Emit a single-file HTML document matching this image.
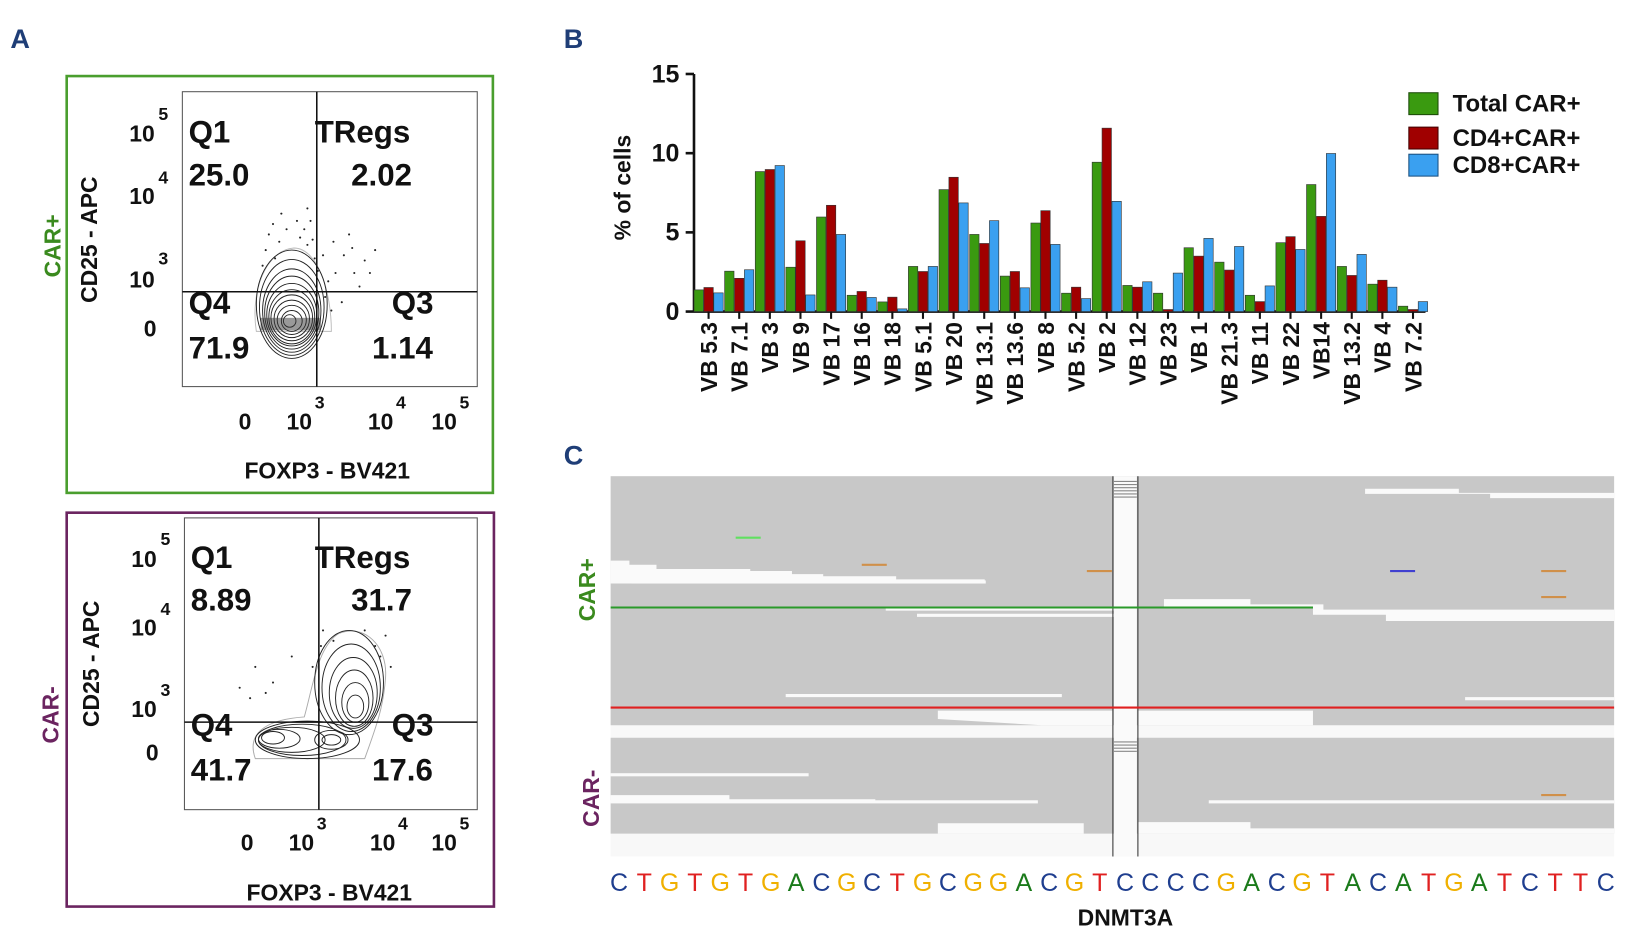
<!DOCTYPE html>
<html><head><meta charset="utf-8"><style>
html,body{margin:0;padding:0;background:#fff;width:1636px;height:942px;overflow:hidden}
svg text{font-family:"Liberation Sans",Arial,sans-serif;font-weight:bold}
</style></head><body>
<svg id="fig" width="1636" height="942" viewBox="0 0 1570 904" preserveAspectRatio="none" xmlns="http://www.w3.org/2000/svg">
<rect width="1570" height="904" fill="#fff"/>
<text x="10" y="46" font-size="26" fill="#1f3e77">A</text>
<text x="541" y="46" font-size="26" fill="#1f3e77">B</text>
<text x="541" y="446" font-size="26" fill="#1f3e77">C</text>

<!-- Panel A top -->
<g>
<rect x="64" y="73" width="409" height="400" fill="none" stroke="#4a9e2e" stroke-width="2.5"/>
<rect x="175" y="88" width="283" height="283" fill="none" stroke="#555" stroke-width="1"/>
<g fill="none" stroke="#222" stroke-width="0.9">
<path d="M246 318 C240 280 255 240 282 238 C305 238 318 280 318 318 Z" stroke="#bbb"/>
<ellipse cx="280" cy="292" rx="34" ry="52"/><ellipse cx="280" cy="295" rx="31" ry="46"/><ellipse cx="280" cy="298" rx="28" ry="40"/><ellipse cx="280" cy="300" rx="26" ry="35"/><ellipse cx="280" cy="302" rx="24" ry="30"/><ellipse cx="280" cy="304" rx="22" ry="26"/><ellipse cx="280" cy="305" rx="20" ry="22"/><ellipse cx="280" cy="306" rx="17" ry="18"/><ellipse cx="280" cy="307" rx="14" ry="14"/><ellipse cx="280" cy="308" rx="10" ry="10"/><ellipse cx="278" cy="308" rx="6" ry="6"/>
<rect x="250" y="305" width="58" height="12" fill="#333" stroke="none" opacity="0.5"/>
</g>
<g fill="#222">
<circle cx="262" cy="215" r="1"/><circle cx="270" cy="205" r="1"/><circle cx="285" cy="212" r="1"/><circle cx="295" cy="200" r="1"/><circle cx="300" cy="230" r="1"/><circle cx="255" cy="240" r="1"/><circle cx="310" cy="245" r="1"/><circle cx="320" cy="232" r="1"/><circle cx="335" cy="225" r="1"/><circle cx="350" cy="250" r="1"/><circle cx="340" cy="262" r="1"/><circle cx="315" cy="270" r="1"/><circle cx="328" cy="290" r="1"/><circle cx="292" cy="220" r="1"/><circle cx="268" cy="232" r="1"/><circle cx="305" cy="260" r="1"/><circle cx="360" cy="240" r="1"/><circle cx="345" cy="275" r="1"/>
<circle cx="258" cy="225" r="1"/><circle cx="275" cy="220" r="1"/><circle cx="288" cy="228" r="1"/><circle cx="298" cy="212" r="1"/><circle cx="252" cy="255" r="1"/><circle cx="302" cy="248" r="1"/><circle cx="312" cy="285" r="1"/><circle cx="322" cy="262" r="1"/><circle cx="330" cy="245" r="1"/><circle cx="338" cy="238" r="1"/><circle cx="355" cy="262" r="1"/><circle cx="318" cy="298" r="1"/><circle cx="295" cy="235" r="1"/><circle cx="264" cy="248" r="1"/>
</g>
<line x1="175" y1="280" x2="458" y2="280" stroke="#111" stroke-width="1.5"/>
<line x1="304" y1="88" x2="304" y2="371" stroke="#111" stroke-width="1.5"/>
<g font-size="30" fill="#111">
<text x="181" y="137">Q1</text><text x="181" y="178">25.0</text><text x="302" y="137">TRegs</text><text x="337" y="178">2.02</text>
<text x="181" y="301">Q4</text><text x="181" y="344">71.9</text><text x="376" y="301">Q3</text><text x="357" y="344">1.14</text>
</g>
<g font-size="22" fill="#111">
<text x="124" y="136">10</text><text x="152" y="115" font-size="17">5</text>
<text x="124" y="196">10</text><text x="152" y="176" font-size="17">4</text>
<text x="124" y="276">10</text><text x="152" y="254" font-size="17">3</text>
<text x="138" y="323">0</text>
<text x="229" y="412">0</text>
<text x="275" y="412">10</text><text x="302" y="392" font-size="17">3</text>
<text x="353" y="412">10</text><text x="380" y="392" font-size="17">4</text>
<text x="414" y="412">10</text><text x="441" y="392" font-size="17">5</text>
</g>
<text x="314" y="459" font-size="22" fill="#111" text-anchor="middle">FOXP3 - BV421</text>
<text transform="translate(93,230) rotate(-90)" font-size="22" fill="#111" text-anchor="middle">CD25 - APC</text>
<text transform="translate(58,236) rotate(-90)" font-size="22" fill="#3a8a1e" text-anchor="middle">CAR+</text>
</g>

<!-- Panel A bottom -->
<g>
<rect x="64" y="492" width="410" height="378" fill="none" stroke="#6b2460" stroke-width="2.5"/>
<rect x="177" y="497" width="281" height="280" fill="none" stroke="#555" stroke-width="1"/>
<g fill="none" stroke="#222" stroke-width="0.9">
<path d="M245 728 C235 700 262 690 292 688 C300 660 305 620 325 608 C350 598 372 620 370 650 C368 680 360 700 350 728 Z" stroke="#aaa"/>
<ellipse cx="335" cy="655" rx="33" ry="50"/><ellipse cx="337" cy="660" rx="28" ry="42"/><ellipse cx="339" cy="665" rx="23" ry="34"/><ellipse cx="340" cy="670" rx="18" ry="27"/><ellipse cx="341" cy="674" rx="13" ry="19"/><ellipse cx="341" cy="678" rx="8" ry="11"/>
<ellipse cx="295" cy="710" rx="50" ry="18"/><ellipse cx="290" cy="710" rx="42" ry="15"/><ellipse cx="280" cy="710" rx="32" ry="12"/><ellipse cx="268" cy="709" rx="20" ry="9"/><ellipse cx="262" cy="708" rx="11" ry="6"/><ellipse cx="318" cy="710" rx="16" ry="9"/><ellipse cx="318" cy="710" rx="9" ry="5"/>
</g>
<g fill="#222">
<circle cx="230" cy="660" r="1"/><circle cx="245" cy="640" r="1"/><circle cx="262" cy="655" r="1"/><circle cx="280" cy="630" r="1"/><circle cx="310" cy="605" r="1"/><circle cx="320" cy="615" r="1"/><circle cx="350" cy="605" r="1"/><circle cx="370" cy="610" r="1"/><circle cx="360" cy="620" r="1"/><circle cx="240" cy="670" r="1"/><circle cx="300" cy="640" r="1"/><circle cx="308" cy="620" r="1"/><circle cx="365" cy="630" r="1"/><circle cx="375" cy="640" r="1"/><circle cx="255" cy="665" r="1"/>
</g>
<line x1="177" y1="693" x2="458" y2="693" stroke="#111" stroke-width="1.5"/>
<line x1="306" y1="497" x2="306" y2="777" stroke="#111" stroke-width="1.5"/>
<g font-size="30" fill="#111">
<text x="183" y="545">Q1</text><text x="183" y="586">8.89</text><text x="302" y="545">TRegs</text><text x="337" y="586">31.7</text>
<text x="183" y="706">Q4</text><text x="183" y="749">41.7</text><text x="376" y="706">Q3</text><text x="357" y="749">17.6</text>
</g>
<g font-size="22" fill="#111">
<text x="126" y="544">10</text><text x="154" y="523" font-size="17">5</text>
<text x="126" y="610">10</text><text x="154" y="590" font-size="17">4</text>
<text x="126" y="688">10</text><text x="154" y="668" font-size="17">3</text>
<text x="140" y="730">0</text>
<text x="231" y="816">0</text>
<text x="277" y="816">10</text><text x="304" y="796" font-size="17">3</text>
<text x="355" y="816">10</text><text x="382" y="796" font-size="17">4</text>
<text x="414" y="816">10</text><text x="441" y="796" font-size="17">5</text>
</g>
<text x="316" y="864" font-size="22" fill="#111" text-anchor="middle">FOXP3 - BV421</text>
<text transform="translate(95,637) rotate(-90)" font-size="22" fill="#111" text-anchor="middle">CD25 - APC</text>
<text transform="translate(56,686) rotate(-90)" font-size="22" fill="#6b2460" text-anchor="middle">CAR-</text>
</g>

<!-- Panel B -->
<g id="barchart"></g>
<g>
<rect x="1352" y="89" width="28" height="21" fill="#3a9a10" stroke="#1b4a08"/><text x="1394" y="107" font-size="23" fill="#111">Total CAR+</text>
<rect x="1352" y="122" width="28" height="21" fill="#a00000" stroke="#400"/><text x="1394" y="140" font-size="23" fill="#111">CD4+CAR+</text>
<rect x="1352" y="148" width="28" height="21" fill="#3aa0f0" stroke="#1a5080"/><text x="1394" y="166" font-size="23" fill="#111">CD8+CAR+</text>
</g>

<!-- Panel C -->
<g>
<rect x="586" y="457" width="963" height="365" fill="#f8f8f8"/>
<rect x="586" y="457" width="963" height="239" fill="#c8c8c8"/>
<rect x="586" y="708" width="963" height="92" fill="#c8c8c8"/>
<g fill="#fafafa">
<polygon points="586,538 604,538 604,542 630,542 630,546 720,546 720,548 760,548 760,551 790,551 790,553 860,553 860,556 945,556 945,560 586,560 586,552"/>
<rect x="606" y="557" width="340" height="3"/>
<rect x="850" y="585" width="220" height="3" transform="translate(0,-2)"/>
<rect x="880" y="589" width="190" height="3"/>
<polygon points="1117,575 1200,575 1200,580 1270,580 1270,585 1549,585 1549,596 1330,596 1330,590 1260,590 1260,583 1117,583"/>
<polygon points="1310,469 1400,469 1400,473 1550,473 1550,478 1430,478 1430,474 1310,474"/>
<rect x="754" y="666" width="265" height="3"/>
<rect x="1406" y="669" width="143" height="3"/>
<polygon points="900,682 1068,682 1068,696 1000,696 900,690"/>
<polygon points="1092,682 1260,682 1260,696 1092,696"/>
<rect x="586" y="742" width="190" height="3"/>
<polygon points="586,763 700,763 700,767 840,767 840,770 586,770"/>
<rect x="586" y="768" width="410" height="3"/>
<rect x="1160" y="768" width="389" height="3"/>
<polygon points="900,790 1040,790 1040,800 900,800"/>
<polygon points="1092,789 1200,789 1200,795 1549,795 1549,800 1092,800"/>
</g>
<rect x="1069" y="457" width="22" height="365" fill="#fafafa"/>
<g stroke="#888" stroke-width="1">
<line x1="1069" y1="462" x2="1091" y2="462"/><line x1="1069" y1="465" x2="1091" y2="465"/><line x1="1069" y1="468" x2="1091" y2="468"/><line x1="1069" y1="471" x2="1091" y2="471"/><line x1="1069" y1="474" x2="1091" y2="474"/><line x1="1069" y1="477" x2="1091" y2="477"/>
<line x1="1069" y1="712" x2="1091" y2="712"/><line x1="1069" y1="715" x2="1091" y2="715"/><line x1="1069" y1="718" x2="1091" y2="718"/><line x1="1069" y1="721" x2="1091" y2="721"/>
</g>
<line x1="1068" y1="457" x2="1068" y2="822" stroke="#333" stroke-width="1"/>
<line x1="1092" y1="457" x2="1092" y2="822" stroke="#333" stroke-width="1"/>
<line x1="586" y1="583" x2="1260" y2="583" stroke="#2a9a2a" stroke-width="2"/>
<line x1="586" y1="679" x2="1549" y2="679" stroke="#e02020" stroke-width="2"/>
<line x1="706" y1="516" x2="730" y2="516" stroke="#60e060" stroke-width="2"/>
<line x1="827" y1="542" x2="851" y2="542" stroke="#d0904a" stroke-width="2"/>
<line x1="1043" y1="548" x2="1067" y2="548" stroke="#d0904a" stroke-width="2"/>
<line x1="1334" y1="548" x2="1358" y2="548" stroke="#4040d0" stroke-width="2"/>
<line x1="1479" y1="548" x2="1503" y2="548" stroke="#d0904a" stroke-width="2"/>
<line x1="1479" y1="573" x2="1503" y2="573" stroke="#d0904a" stroke-width="2"/>
<line x1="1479" y1="763" x2="1503" y2="763" stroke="#d0904a" stroke-width="2"/>
<text transform="translate(571,566) rotate(-90)" font-size="22" fill="#3a8a1e" text-anchor="middle">CAR+</text>
<text transform="translate(575,766) rotate(-90)" font-size="22" fill="#6b2460" text-anchor="middle">CAR-</text>
<g id="seq"></g>
<text x="1080" y="888" font-size="22" fill="#111" text-anchor="middle">DNMT3A</text>
</g>
</svg>
<script>
const NS="http://www.w3.org/2000/svg";
const categories=["VB 5.3","VB 7.1","VB 3","VB 9","VB 17","VB 16","VB 18","VB 5.1","VB 20","VB 13.1","VB 13.6","VB 8","VB 5.2","VB 2","VB 12","VB 23","VB 1","VB 21.3","VB 11","VB 22","VB14","VB 13.2","VB 4","VB 7.2"];
const totalCar=[1.37,2.55,8.84,2.8,5.97,1.03,0.61,2.85,7.7,4.87,2.24,5.59,1.16,9.43,1.65,1.16,4.03,3.12,1.03,4.35,8.02,2.85,1.73,0.34];
const cd4Car=[1.52,2.1,8.97,4.47,6.71,1.27,0.91,2.53,8.48,4.3,2.53,6.37,1.54,11.58,1.54,0.13,3.5,2.62,0.63,4.73,6.01,2.28,1.98,0.13];
const cd8Car=[1.18,2.64,9.22,1.05,4.87,0.89,0.17,2.85,6.86,5.74,1.5,4.24,0.82,6.96,1.88,2.43,4.62,4.11,1.62,3.92,9.98,3.61,1.54,0.63];
const yTicks=[0,5,10,15];
const seqLetters="CTGTGTGACGCTGCGGACGTCCCCGACGTACATGATCTTC";

const g=document.getElementById('barchart');
const y0=299,y15=71,xFirst=680,xLast=1356;
const yS=v=>y0-(y0-y15)*v/15;
const xS=i=>xFirst+(xLast-xFirst)*i/(categories.length-1);
function mk(tag,attrs,parent){const e=document.createElementNS(NS,tag);for(const k in attrs)e.setAttribute(k,attrs[k]);parent.appendChild(e);return e;}
const ax=mk('line',{x1:666,y1:y15,x2:666,y2:y0,stroke:'#111','stroke-width':2.5},g);


const xa=mk('line',{x1:666,y1:y0,x2:1368,y2:y0,stroke:'#111','stroke-width':2.5},g);


yTicks.forEach(t=>{
  mk('line',{x1:658,y1:yS(t),x2:666,y2:yS(t),stroke:'#111','stroke-width':2.5},g);
  const tx=mk('text',{x:652,y:yS(t)+8,'font-size':24,'text-anchor':'end',fill:'#111'},g);
  tx.textContent=t;
  
  
});
const yt=mk('text',{transform:'translate(605,180) rotate(-90)','font-size':22,'text-anchor':'middle',fill:'#111'},g);
yt.textContent='% of cells';


const series=[[totalCar,'#3a9a10',-9.5,'total'],[cd4Car,'#a00000',0,'cd4'],[cd8Car,'#3aa0f0',9.5,'cd8']];
categories.forEach((c,i)=>{
  const cx=xS(i);
  series.forEach(([arr,col,off,nm])=>{
    const r=mk('rect',{x:cx+off-4.5,y:yS(arr[i]),width:9,height:y0-yS(arr[i]),fill:col,stroke:'#333','stroke-width':0.6},g);
    
    
  });
  mk('line',{x1:cx,y1:y0,x2:cx,y2:y0+7,stroke:'#111','stroke-width':2},g);
  const lb=mk('text',{transform:`translate(${cx+8},${y0+10}) rotate(-90)`,'font-size':22,'text-anchor':'end',fill:'#111'},g);
  lb.textContent=c;
  
  
});
const colors={A:'#1a7a1a',C:'#1f3e8f',G:'#f0b000',T:'#e02020'};
const sg=document.getElementById('seq');
const n=seqLetters.length, sx0=594, sx1=1541;
for(let i=0;i<n;i++){
  const ch=seqLetters[i];
  const t=mk('text',{x:sx0+(sx1-sx0)*i/(n-1),y:855,'font-size':24,'text-anchor':'middle',fill:colors[ch]},sg);
  t.setAttribute('style','font-weight:normal');
  t.textContent=ch;
  
  
}
</script>
</body></html>
